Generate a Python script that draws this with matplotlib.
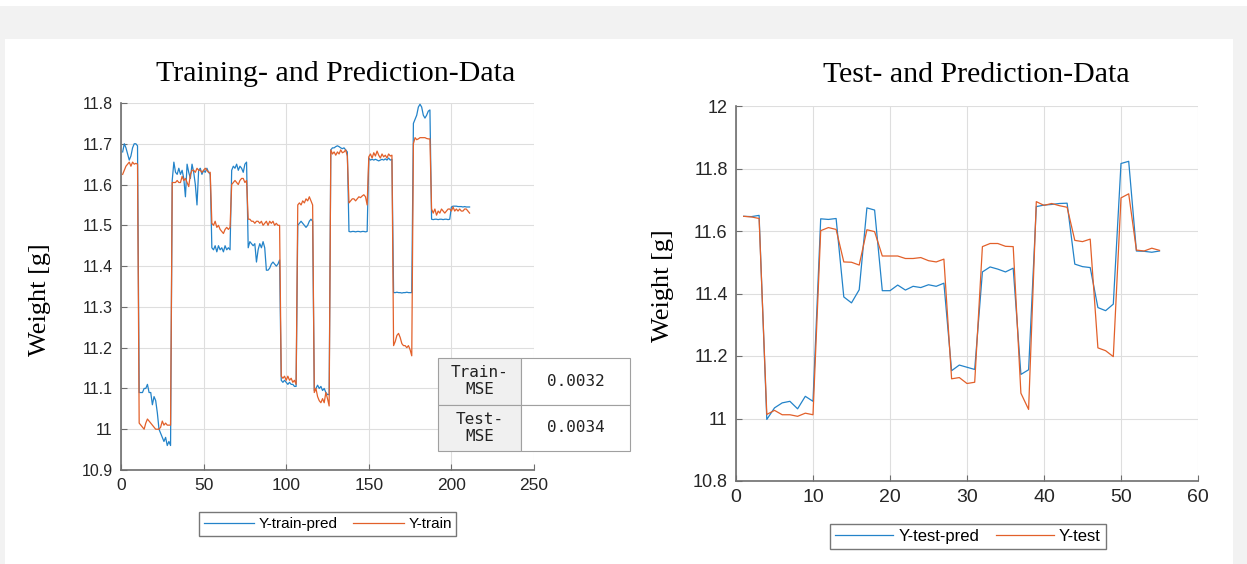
import matplotlib
matplotlib.use("Agg")
import matplotlib.pyplot as plt
from matplotlib.patches import Rectangle
from matplotlib.ticker import FuncFormatter
import numpy as np

W, H = 1247, 564

# training data, sample index 1..211
y_train_pred = [
    11.68, 11.70, 11.69, 11.675, 11.66, 11.67, 11.69, 11.70, 11.70, 11.695,
    11.09, 11.09, 11.09, 11.10, 11.10, 11.11, 11.09, 11.09, 11.06, 11.08,
    11.07, 11.04, 11.00, 10.99, 10.98, 10.97, 10.98, 10.96, 10.97, 10.96,
    11.61, 11.655, 11.63, 11.625, 11.64, 11.625, 11.635, 11.615, 11.57, 11.65,
    11.63, 11.615, 11.65, 11.63, 11.60, 11.55, 11.635, 11.64, 11.625, 11.635,
    11.63, 11.64, 11.63, 11.625,
    11.445, 11.44, 11.45, 11.435, 11.45, 11.44, 11.445, 11.435, 11.45, 11.44,
    11.445, 11.44,
    11.635, 11.645, 11.64, 11.65, 11.635, 11.645, 11.64, 11.63, 11.65, 11.655,
    11.445, 11.46, 11.455, 11.45, 11.455, 11.41, 11.44, 11.455, 11.445, 11.46,
    11.445, 11.39, 11.39, 11.395, 11.405, 11.41, 11.405, 11.40, 11.405, 11.415,
    11.12, 11.115, 11.12, 11.115, 11.11, 11.115, 11.11, 11.11, 11.105, 11.105,
    11.50, 11.505, 11.51, 11.505, 11.50, 11.495, 11.50, 11.51, 11.515, 11.51,
    11.095, 11.10, 11.108, 11.10, 11.105, 11.095, 11.10, 11.09, 11.085, 11.085,
    11.685, 11.69, 11.69, 11.693, 11.695, 11.693, 11.69, 11.688, 11.69, 11.685,
    11.68,
    11.485, 11.484, 11.485, 11.485, 11.484, 11.485, 11.485, 11.484, 11.485, 11.485,
    11.484, 11.485,
    11.665, 11.66, 11.662, 11.66, 11.662, 11.66, 11.658, 11.66, 11.662, 11.66,
    11.663, 11.66, 11.665, 11.66, 11.662,
    11.335, 11.335, 11.336, 11.335, 11.335, 11.334, 11.335, 11.335, 11.336, 11.335,
    11.335, 11.335,
    11.75, 11.76, 11.77, 11.79, 11.797, 11.79, 11.77, 11.763, 11.77, 11.78,
    11.783,
    11.515, 11.514, 11.515, 11.515, 11.514, 11.515, 11.515, 11.514, 11.515, 11.515,
    11.514, 11.515,
    11.545, 11.547, 11.547, 11.547, 11.546, 11.546, 11.546, 11.545, 11.546, 11.545,
    11.545, 11.545,
]
y_train = [
    11.625, 11.635, 11.645, 11.65, 11.655, 11.645, 11.655, 11.65, 11.652, 11.65,
    11.015, 11.01, 11.005, 11.00, 11.015, 11.025, 11.02, 11.015, 11.01, 11.005,
    11.00, 11.00, 11.00, 11.005, 11.02, 11.01, 11.015, 11.01, 11.01, 11.01,
    11.605, 11.605, 11.605, 11.61, 11.605, 11.605, 11.62, 11.61, 11.615, 11.605,
    11.595, 11.625, 11.635, 11.635, 11.63, 11.64, 11.635, 11.635, 11.63, 11.635,
    11.64, 11.635, 11.63, 11.63,
    11.505, 11.50, 11.51, 11.495, 11.50, 11.49, 11.485, 11.48, 11.49, 11.495,
    11.49, 11.495,
    11.60, 11.605, 11.61, 11.605, 11.60, 11.61, 11.615, 11.615, 11.605, 11.61,
    11.515, 11.515, 11.51, 11.51, 11.505, 11.51, 11.51, 11.505, 11.51, 11.50,
    11.505, 11.51, 11.50, 11.51, 11.505, 11.51, 11.50, 11.505, 11.50, 11.50,
    11.13, 11.125, 11.13, 11.12, 11.13, 11.12, 11.125, 11.115, 11.12, 11.11,
    11.55, 11.555, 11.55, 11.56, 11.555, 11.565, 11.56, 11.57, 11.56, 11.55,
    11.09, 11.10, 11.08, 11.07, 11.065, 11.075, 11.065, 11.09, 11.075, 11.057,
    11.685, 11.675, 11.68, 11.672, 11.68, 11.675, 11.685, 11.678, 11.68, 11.685,
    11.67,
    11.555, 11.56, 11.565, 11.565, 11.56, 11.565, 11.57, 11.568, 11.572, 11.575,
    11.57, 11.55,
    11.668, 11.675, 11.665, 11.678, 11.67, 11.682, 11.672, 11.665, 11.675, 11.668,
    11.672, 11.665, 11.675, 11.67, 11.672,
    11.205, 11.215, 11.23, 11.235, 11.225, 11.21, 11.205, 11.205, 11.20, 11.205,
    11.195, 11.18,
    11.70, 11.715, 11.71, 11.712, 11.715, 11.715, 11.715, 11.715, 11.713, 11.712,
    11.712,
    11.54, 11.53, 11.54, 11.525, 11.535, 11.53, 11.54, 11.535, 11.53, 11.535,
    11.54, 11.54,
    11.535, 11.545, 11.535, 11.54, 11.535, 11.54, 11.535, 11.535, 11.54, 11.54,
    11.535, 11.53,
]

# test data, sample index 1..55
y_test_pred = [
    11.647, 11.646, 11.65, 10.997, 11.034, 11.05, 11.055, 11.031, 11.071, 11.055,
    11.639, 11.637, 11.64, 11.389, 11.37, 11.412, 11.674, 11.667, 11.409, 11.409,
    11.427, 11.411, 11.423, 11.419, 11.428, 11.423, 11.433, 11.153, 11.171, 11.164,
    11.157, 11.469, 11.485, 11.478, 11.469, 11.481, 11.141, 11.156, 11.678, 11.683,
    11.685, 11.688, 11.689, 11.494, 11.486, 11.483, 11.355, 11.345, 11.366, 11.816,
    11.823, 11.536, 11.535, 11.532, 11.536,
]
y_test = [
    11.647, 11.645, 11.64, 11.013, 11.026, 11.012, 11.012, 11.007, 11.017, 11.012,
    11.601, 11.611, 11.605, 11.501, 11.50, 11.491, 11.604, 11.598, 11.52, 11.52,
    11.52, 11.512, 11.512, 11.515, 11.505, 11.501, 11.51, 11.127, 11.131, 11.112,
    11.116, 11.55, 11.56, 11.56, 11.551, 11.55, 11.081, 11.029, 11.694, 11.682,
    11.688, 11.681, 11.676, 11.57, 11.566, 11.574, 11.226, 11.217, 11.198, 11.706,
    11.719, 11.539, 11.536, 11.545, 11.538,
]

mse_rows = ["Train-\nMSE", "Test-\nMSE"]
mse_vals = ["0.0032", "0.0034"]

BLUE = "#2383c9"
ORANGE = "#e2602a"
SERIF = ["Liberation Serif", "DejaVu Serif"]
SANS = ["Liberation Sans", "DejaVu Sans"]

plt.rcParams["font.family"] = SANS

fig = plt.figure(figsize=(W / 100, H / 100), dpi=100, facecolor="#f2f2f2")
# white strip at the top and the white panel
fig.patches.append(Rectangle((0, 1 - 6 / H), 1, 6 / H, transform=fig.transFigure,
                             facecolor="white", edgecolor="none", zorder=-10))
fig.patches.append(Rectangle((5 / W, 0), 1228 / W, (H - 39) / H, transform=fig.transFigure,
                             facecolor="white", edgecolor="none", zorder=-10))


def fmt(v, pos):
    return "%g" % round(v, 3)


def style(ax, xsize, ysize):
    ax.set_facecolor("white")
    ax.grid(True, color="#dedede", linewidth=0.8)
    ax.set_axisbelow(True)
    for s in ("top", "right"):
        ax.spines[s].set_visible(False)
    for s in ("left", "bottom"):
        ax.spines[s].set_color("#6e6e6e")
        ax.spines[s].set_linewidth(1.2)
    ax.tick_params(direction="in", length=4, color="#6e6e6e", labelcolor="#262626",
                   pad=6)
    ax.tick_params(axis="x", labelsize=xsize)
    ax.tick_params(axis="y", labelsize=ysize)
    ax.yaxis.set_major_formatter(FuncFormatter(fmt))


def axes_px(x0, y0, x1, y1):
    return fig.add_axes([x0 / W, (H - y1) / H, (x1 - x0) / W, (y1 - y0) / H])


# left: training
ax1 = axes_px(121, 103, 534, 470)
xt = np.arange(1, len(y_train) + 1)
ax1.plot(xt, y_train_pred, color=BLUE, lw=0.9, label="Y-train-pred")
ax1.plot(xt, y_train, color=ORANGE, lw=0.9, label="Y-train")
ax1.set_xlim(0, 250)
ax1.set_ylim(10.9, 11.8)
ax1.set_xticks(np.arange(0, 251, 50))
ax1.set_yticks(np.arange(10.9, 11.81, 0.1))
style(ax1, 12.5, 11.5)
ax1.legend(loc="center", bbox_to_anchor=(0.501, -0.147), ncol=2, fontsize=11,
           frameon=True, fancybox=False, edgecolor="#555555", handlelength=3.3,
           columnspacing=1.0, borderpad=0.3, handletextpad=0.3)

tab = ax1.table(cellText=[[mse_rows[0], mse_vals[0]], [mse_rows[1], mse_vals[1]]],
                bbox=[(438 - 121) / 413, (470 - 451) / 367, 192 / 413, 93 / 367],
                colWidths=[83, 109], cellLoc="center")
tab.auto_set_font_size(False)
for (r, c), cell in tab.get_celld().items():
    cell.set_edgecolor("#a0a0a0")
    cell.set_linewidth(0.8)
    cell.set_facecolor("#f0f0f0" if c == 0 else "white")
    cell.get_text().set_fontfamily("DejaVu Sans Mono")
    cell.get_text().set_fontsize(11.5)
    cell.get_text().set_color("#222222")
tab.set_zorder(5)

# right: test
ax2 = axes_px(736, 106, 1198, 481)
xs = np.arange(1, len(y_test) + 1)
ax2.plot(xs, y_test_pred, color=BLUE, lw=0.9, label="Y-test-pred")
ax2.plot(xs, y_test, color=ORANGE, lw=0.9, label="Y-test")
ax2.set_xlim(0, 60)
ax2.set_ylim(10.8, 12)
ax2.set_xticks(np.arange(0, 61, 10))
ax2.set_yticks(np.arange(10.8, 12.01, 0.2))
style(ax2, 14, 13)
ax2.legend(loc="center", bbox_to_anchor=(0.502, -0.147), ncol=2, fontsize=12,
           frameon=True, fancybox=False, edgecolor="#555555", handlelength=3.5,
           columnspacing=1.0, borderpad=0.3, handletextpad=0.3)

fig.text(336 / W, 1 - 74 / H, "Training- and Prediction-Data", family=SERIF,
         fontsize=21.5, ha="center", va="center")
fig.text(976 / W, 1 - 75 / H, "Test- and Prediction-Data", family=SERIF,
         fontsize=21.5, ha="center", va="center")
fig.text(40 / W, 1 - 300 / H, "Weight [g]", family=SERIF, fontsize=19,
         rotation=90, ha="center", va="center")
fig.text(663 / W, 1 - 286 / H, "Weight [g]", family=SERIF, fontsize=19,
         rotation=90, ha="center", va="center")

fig.savefig("out.png", dpi=100, facecolor=fig.get_facecolor())
